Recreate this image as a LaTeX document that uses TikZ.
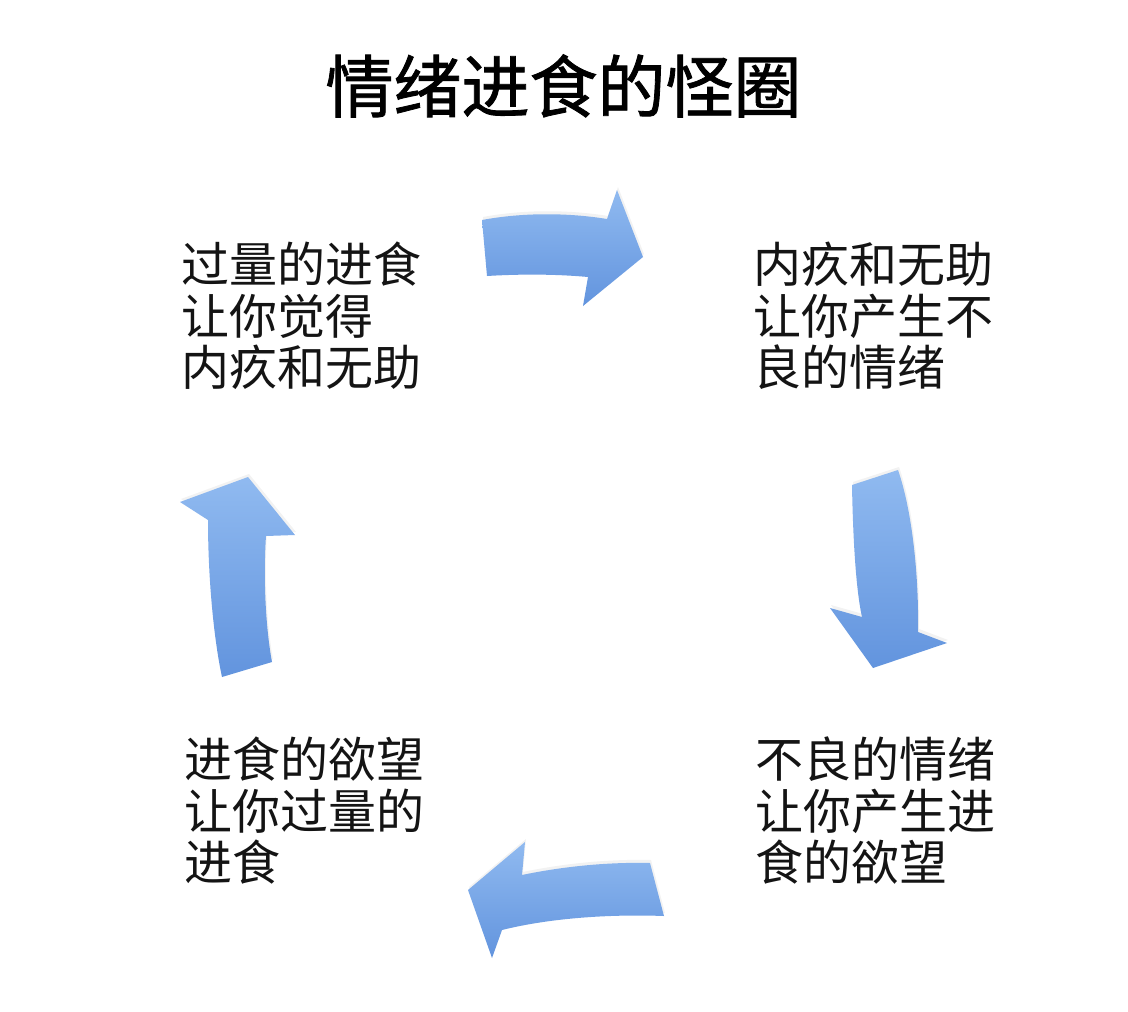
\documentclass[tikz,border=0pt]{standalone}
\usepackage{fontspec}
\newfontfamily\cjk{Noto Sans CJK SC}
\newfontfamily\cjkt{Noto Sans CJK SC}[FakeBold=1.2]
\usetikzlibrary{shadows}
\definecolor{arrlight}{RGB}{144,186,240}
\definecolor{arrdark}{RGB}{98,148,222}
\definecolor{txtcol}{RGB}{20,20,20}
\begin{document}
\begin{tikzpicture}[x=1pt,y=-1pt,
  arrowshape/.style={draw=none,top color=arrlight,bottom color=arrdark,
    drop shadow={shadow xshift=1pt,shadow yshift=3pt,opacity=0.10,fill=black!50}},
  txt/.style={anchor=base west,inner sep=0pt,font=\cjk\fontsize{48}{52}\selectfont,text=txtcol},
  ttl/.style={anchor=base,inner sep=0pt,font=\cjkt\fontsize{68}{72}\selectfont,text=black},
]
\useasboundingbox[fill=white] (0,0) rectangle (1128,1012);

% title
\node[ttl] (title) at (563.5,112) {情绪进食的怪圈};

% top arrow (pointing right)
\path[arrowshape] (482,220) .. controls (525,212) and (570,213) .. (607,219)
  -- (617,190) -- (643,257) -- (583,306) -- (588,277)
  .. controls (555,274) and (520,274) .. (487,276) -- cycle;

% right arrow (pointing down)
\path[arrowshape] (852,485) -- (898,470) .. controls (912,510) and (919,575) .. (918,632)
  -- (947,643) -- (873,668) -- (830,608) -- (862,617)
  .. controls (856,590) and (853,540) .. (852,485) -- cycle;

% bottom arrow (pointing left)
\path[arrowshape] (468,890) -- (525,842) -- (522,875)
  .. controls (565,866) and (610,862) .. (650,863) -- (664,916)
  .. controls (610,914) and (550,918) .. (502,930) -- (492,958) -- cycle;

% left arrow (pointing up)
\path[arrowshape] (248,477) -- (295,535) -- (266,536)
  .. controls (263,580) and (266,630) .. (272,662) -- (222,677)
  .. controls (214,640) and (208,580) .. (208,520) -- (180,502) -- cycle;

% top-left text
\node[txt] (tl1) at (181,282) {过量的进食};
\node[txt] (tl2) at (181,334) {让你觉得};
\node[txt] (tl3) at (181,385) {内疚和无助};

% top-right text
\node[txt] (tr1) at (753,282) {内疚和无助};
\node[txt] (tr2) at (753,334) {让你产生不};
\node[txt] (tr3) at (753,385) {良的情绪};

% bottom-left text
\node[txt] (bl1) at (184,777) {进食的欲望};
\node[txt] (bl2) at (184,829) {让你过量的};
\node[txt] (bl3) at (184,880) {进食};

% bottom-right text
\node[txt] (br1) at (755,777) {不良的情绪};
\node[txt] (br2) at (755,829) {让你产生进};
\node[txt] (br3) at (755,880) {食的欲望};
\end{tikzpicture}
\end{document}
